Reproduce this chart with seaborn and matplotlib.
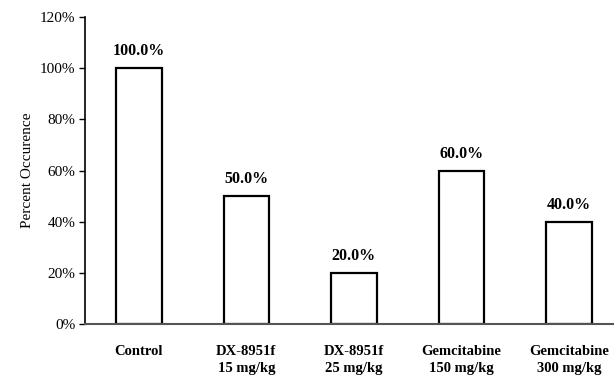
import matplotlib
matplotlib.use("Agg")
import matplotlib.pyplot as plt
import seaborn as sns
import pandas as pd

# Data
groups = ["Control", "DX-8951f\n15 mg/kg", "DX-8951f\n25 mg/kg",
          "Gemcitabine\n150 mg/kg", "Gemcitabine\n300 mg/kg"]
percent = [100.0, 50.0, 20.0, 60.0, 40.0]
y_ticks = [0, 20, 40, 60, 80, 100, 120]

df = pd.DataFrame({"group": groups, "percent": percent})

sns.set_style("white")
plt.rcParams["font.family"] = ["Liberation Serif", "DejaVu Serif"]
plt.rcParams["text.color"] = "black"
plt.rcParams["axes.labelcolor"] = "black"
plt.rcParams["xtick.color"] = "black"
plt.rcParams["ytick.color"] = "black"

fig = plt.figure(figsize=(6.14, 3.79), dpi=100)
# the x axis runs off the right edge in the reference
ax = fig.add_axes([0.1384, 0.145, 0.876, 0.81])

sns.barplot(data=df, x="group", y="percent", color="white", edgecolor="black",
            linewidth=1.6, width=0.424, ax=ax)

for i, v in enumerate(percent):
    ax.text(i, v + 3.5, f"{v:.1f}%", ha="center", va="bottom",
            fontsize=11.5, fontweight="bold", color="black")

ax.set_xlim(-0.5, 4.5)
ax.set_ylim(0, 120)
ax.set_yticks(y_ticks)
ax.set_yticklabels([f"{t}%" for t in y_ticks], fontsize=11)
ax.set_xticklabels(groups, fontsize=10.5, fontweight="bold", linespacing=1.4)
ax.tick_params(axis="x", length=0, pad=15)
ax.tick_params(axis="y", length=4, width=1, left=True, pad=3)
ax.set_xlabel("")
ax.set_ylabel("Percent Occurence", fontsize=11)

for s in ["top", "right"]:
    ax.spines[s].set_visible(False)
ax.spines["left"].set_color("black")
ax.spines["left"].set_linewidth(1.2)
ax.spines["bottom"].set_color("#555555")
ax.spines["bottom"].set_linewidth(1.5)

fig.savefig("out.png", dpi=100)
